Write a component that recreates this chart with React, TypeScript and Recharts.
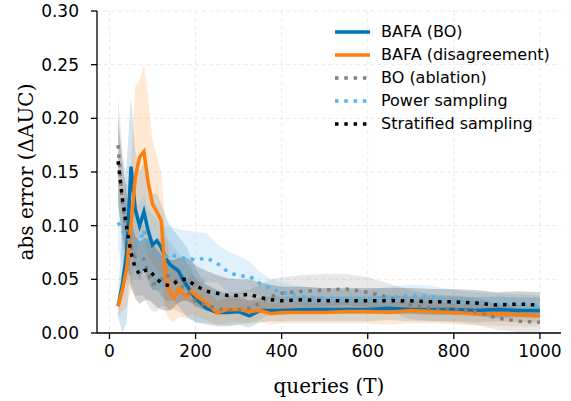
import React from 'react';
import { ComposedChart, Area, Line, XAxis, YAxis, CartesianGrid } from 'recharts';

// query budgets (T)
const X = [20, 30, 40, 50, 60, 70, 80, 90, 100, 110, 120, 130, 140, 150, 160, 170, 180, 190, 200,
    225, 250, 275, 300, 325, 350, 375, 400, 450, 500, 550, 600, 650, 700, 750, 800, 850, 900, 950, 1000];

// BAFA (BO)
const BO_MEAN = [0.025, 0.045, 0.075, 0.155, 0.115, 0.100, 0.113, 0.095, 0.082, 0.086, 0.080, 0.070, 0.064, 0.061, 0.058, 0.050, 0.044, 0.038, 0.032,
    0.023, 0.019, 0.019, 0.020, 0.016, 0.021, 0.021, 0.021, 0.022, 0.022, 0.022, 0.022, 0.023, 0.022, 0.022, 0.022, 0.021, 0.022, 0.021, 0.021];
const BO_LO = [0.015, 0.0, 0.01, 0.08, 0.06, 0.05, 0.06, 0.05, 0.04, 0.04, 0.035, 0.03, 0.03, 0.03, 0.025, 0.02, 0.015, 0.012, 0.01,
    0.008, 0.006, 0.006, 0.008, 0.005, 0.01, 0.011, 0.011, 0.011, 0.011, 0.011, 0.011, 0.012, 0.011, 0.011, 0.011, 0.01, 0.011, 0.01, 0.01];
const BO_HI = [0.035, 0.10, 0.16, 0.22, 0.17, 0.15, 0.16, 0.14, 0.13, 0.13, 0.12, 0.11, 0.10, 0.095, 0.09, 0.085, 0.08, 0.07, 0.06,
    0.045, 0.04, 0.035, 0.035, 0.03, 0.033, 0.034, 0.034, 0.034, 0.034, 0.034, 0.034, 0.035, 0.034, 0.034, 0.034, 0.033, 0.034, 0.033, 0.033];

// BAFA (disagreement)
const DIS_MEAN = [0.025, 0.040, 0.060, 0.100, 0.145, 0.164, 0.169, 0.140, 0.120, 0.113, 0.105, 0.055, 0.038, 0.033, 0.041, 0.037, 0.034, 0.039, 0.035,
    0.028, 0.019, 0.022, 0.022, 0.020, 0.021, 0.018, 0.019, 0.019, 0.019, 0.020, 0.020, 0.019, 0.021, 0.020, 0.019, 0.018, 0.018, 0.017, 0.016];
const DIS_LO = [0.015, 0.02, 0.025, 0.04, 0.07, 0.09, 0.09, 0.07, 0.065, 0.06, 0.055, 0.02, 0.012, 0.01, 0.015, 0.015, 0.013, 0.018, 0.015,
    0.012, 0.007, 0.01, 0.01, 0.009, 0.01, 0.008, 0.009, 0.009, 0.009, 0.009, 0.009, 0.008, 0.009, 0.009, 0.008, 0.007, 0.007, 0.006, 0.006];
const DIS_HI = [0.035, 0.06, 0.10, 0.16, 0.23, 0.235, 0.25, 0.22, 0.18, 0.165, 0.15, 0.10, 0.07, 0.06, 0.06, 0.055, 0.05, 0.055, 0.05,
    0.04, 0.03, 0.033, 0.032, 0.03, 0.03, 0.028, 0.028, 0.028, 0.028, 0.029, 0.029, 0.028, 0.030, 0.029, 0.028, 0.027, 0.027, 0.026, 0.025];

// BO (ablation)
const ABL_MEAN = [0.175, 0.120, 0.095, 0.080, 0.071, 0.071, 0.069, 0.055, 0.046, 0.046, 0.050, 0.055, 0.052, 0.050, 0.047, 0.043, 0.039, 0.035, 0.029,
    0.026, 0.023, 0.021, 0.022, 0.023, 0.028, 0.034, 0.037, 0.039, 0.040, 0.041, 0.038, 0.033, 0.026, 0.023, 0.022, 0.020, 0.014, 0.011, 0.010];
const ABL_LO = [0.13, 0.075, 0.05, 0.04, 0.035, 0.035, 0.035, 0.025, 0.02, 0.02, 0.025, 0.025, 0.022, 0.022, 0.02, 0.018, 0.016, 0.013, 0.01,
    0.009, 0.008, 0.007, 0.008, 0.009, 0.012, 0.018, 0.022, 0.024, 0.025, 0.026, 0.024, 0.02, 0.013, 0.011, 0.01, 0.008, 0.003, 0.001, 0.0];
const ABL_HI = [0.22, 0.17, 0.14, 0.125, 0.11, 0.105, 0.10, 0.09, 0.085, 0.085, 0.09, 0.09, 0.085, 0.08, 0.075, 0.07, 0.065, 0.06, 0.05,
    0.045, 0.04, 0.038, 0.038, 0.04, 0.045, 0.05, 0.052, 0.054, 0.055, 0.055, 0.052, 0.046, 0.04, 0.036, 0.035, 0.033, 0.027, 0.023, 0.022];

// Power sampling
const POW_MEAN = [0.103, 0.095, 0.088, 0.087, 0.085, 0.084, 0.096, 0.080, 0.075, 0.072, 0.071, 0.071, 0.074, 0.072, 0.071, 0.070, 0.069, 0.069, 0.068,
    0.070, 0.065, 0.057, 0.053, 0.053, 0.046, 0.041, 0.038, 0.034, 0.032, 0.031, 0.031, 0.033, 0.035, 0.034, 0.030, 0.028, 0.027, 0.026, 0.025];
const POW_LO = [0.076, 0.065, 0.056, 0.054, 0.05, 0.048, 0.062, 0.045, 0.04, 0.039, 0.042, 0.044, 0.048, 0.046, 0.045, 0.044, 0.042, 0.043, 0.042,
    0.047, 0.047, 0.038, 0.034, 0.039, 0.035, 0.032, 0.029, 0.025, 0.023, 0.022, 0.022, 0.023, 0.025, 0.024, 0.02, 0.018, 0.017, 0.016, 0.015];
const POW_HI = [0.13, 0.125, 0.12, 0.12, 0.12, 0.12, 0.13, 0.115, 0.11, 0.105, 0.10, 0.098, 0.10, 0.098, 0.097, 0.096, 0.096, 0.095, 0.094,
    0.093, 0.083, 0.076, 0.072, 0.067, 0.057, 0.050, 0.047, 0.043, 0.041, 0.040, 0.040, 0.043, 0.045, 0.044, 0.040, 0.038, 0.037, 0.036, 0.035];

// Stratified sampling
const STR_MEAN = [0.160, 0.125, 0.098, 0.075, 0.060, 0.055, 0.058, 0.059, 0.055, 0.050, 0.047, 0.045, 0.044, 0.046, 0.049, 0.050, 0.050, 0.047, 0.044,
    0.039, 0.037, 0.035, 0.035, 0.036, 0.033, 0.031, 0.030, 0.031, 0.030, 0.030, 0.030, 0.030, 0.030, 0.029, 0.029, 0.028, 0.026, 0.027, 0.026];
const STR_LO = [0.12, 0.09, 0.066, 0.045, 0.032, 0.027, 0.03, 0.031, 0.028, 0.024, 0.022, 0.021, 0.021, 0.024, 0.028, 0.03, 0.03, 0.028, 0.025,
    0.021, 0.02, 0.019, 0.02, 0.022, 0.019, 0.018, 0.017, 0.019, 0.018, 0.018, 0.018, 0.018, 0.018, 0.017, 0.017, 0.016, 0.014, 0.015, 0.014];
const STR_HI = [0.20, 0.16, 0.13, 0.105, 0.09, 0.085, 0.088, 0.088, 0.083, 0.078, 0.073, 0.07, 0.068, 0.068, 0.07, 0.07, 0.07, 0.067, 0.063,
    0.058, 0.054, 0.051, 0.050, 0.050, 0.047, 0.045, 0.043, 0.043, 0.042, 0.042, 0.042, 0.042, 0.042, 0.041, 0.041, 0.040, 0.038, 0.039, 0.038];

const X_TICKS = [0, 200, 400, 600, 800, 1000];
const Y_TICKS = [0, 0.05, 0.1, 0.15, 0.2, 0.25, 0.3];

const COLORS = {
    bo: '#0173b2',
    dis: '#ff7f0e',
    abl: '#808080',
    pow: '#56b4e9',
    str: '#000000',
};

const SERIES = [
    { key: 'bo', name: 'BAFA (BO)', color: COLORS.bo, dotted: false },
    { key: 'dis', name: 'BAFA (disagreement)', color: COLORS.dis, dotted: false },
    { key: 'abl', name: 'BO (ablation)', color: COLORS.abl, dotted: true },
    { key: 'pow', name: 'Power sampling', color: COLORS.pow, dotted: true },
    { key: 'str', name: 'Stratified sampling', color: COLORS.str, dotted: true },
];

const data = X.map((x, i) => ({
    x,
    bo: BO_MEAN[i], boBand: [BO_LO[i], BO_HI[i]],
    dis: DIS_MEAN[i], disBand: [DIS_LO[i], DIS_HI[i]],
    abl: ABL_MEAN[i], ablBand: [ABL_LO[i], ABL_HI[i]],
    pow: POW_MEAN[i], powBand: [POW_LO[i], POW_HI[i]],
    str: STR_MEAN[i], strBand: [STR_LO[i], STR_HI[i]],
}));

const SANS = '"DejaVu Sans", sans-serif';
const SERIF = '"DejaVu Serif", serif';
const LW = 3.5;
const DOTS = '3.5 5.8';

function ChartLegend() {
    return (
        <div style={{ position: 'absolute', left: 333, top: 20, fontFamily: SANS, fontSize: 16, color: '#000' }}>
            {SERIES.map((s) => (
                <div key={s.key} style={{ display: 'flex', alignItems: 'center', height: 23 }}>
                    <svg width={40} height={10} style={{ marginRight: 8 }}>
                        <line x1={2} y1={5} x2={37} y2={5} stroke={s.color} strokeWidth={LW}
                            strokeDasharray={s.dotted ? DOTS : undefined} />
                    </svg>
                    <span>{s.name}</span>
                </div>
            ))}
        </div>
    );
}

export default function App() {
    return (
        <div style={{ position: 'absolute', left: 0, top: 0, width: 571, height: 401, background: '#fff' }}>
            <ComposedChart width={571} height={401} data={data} margin={{ top: 11, right: 10, bottom: 0, left: 0 }}>
                <CartesianGrid stroke="#e6e6e6" strokeDasharray="4 3" strokeWidth={0.8}
                    horizontalValues={Y_TICKS} verticalValues={X_TICKS} />
                <XAxis
                    dataKey="x"
                    type="number"
                    domain={[-29, 1049]}
                    ticks={X_TICKS}
                    allowDataOverflow
                    height={68}
                    stroke="#000"
                    strokeWidth={1.3}
                    tickSize={6}
                    tickMargin={6}
                    tick={{ fill: '#000', fontSize: 17, fontFamily: SANS }}
                    label={{ value: 'queries (T)', position: 'insideBottom', offset: 8,
                        style: { fontFamily: SERIF, fontSize: 20, fill: '#000' } }}
                />
                <YAxis
                    type="number"
                    domain={[0, 0.3]}
                    ticks={Y_TICKS}
                    allowDataOverflow
                    width={97}
                    stroke="#000"
                    strokeWidth={1.3}
                    tickSize={6}
                    tickMargin={12}
                    tickFormatter={(v: number) => v.toFixed(2)}
                    tick={{ fill: '#000', fontSize: 17, fontFamily: SANS }}
                    label={{ value: 'abs error (ΔAUC)', angle: -90, position: 'insideLeft', offset: 26,
                        style: { fontFamily: SERIF, fontSize: 20, fill: '#000', textAnchor: 'middle' } }}
                />
                {SERIES.map((s) => (
                    <Area key={s.key + 'Band'} dataKey={s.key + 'Band'} type="linear" stroke="none"
                        fill={s.color} fillOpacity={0.18} isAnimationActive={false} />
                ))}
                {SERIES.map((s) => (
                    <Line key={s.key} dataKey={s.key} type="linear" stroke={s.color} strokeWidth={LW}
                        strokeDasharray={s.dotted ? DOTS : undefined} dot={false}
                        isAnimationActive={false} />
                ))}
            </ComposedChart>
            <ChartLegend />
        </div>
    );
}
